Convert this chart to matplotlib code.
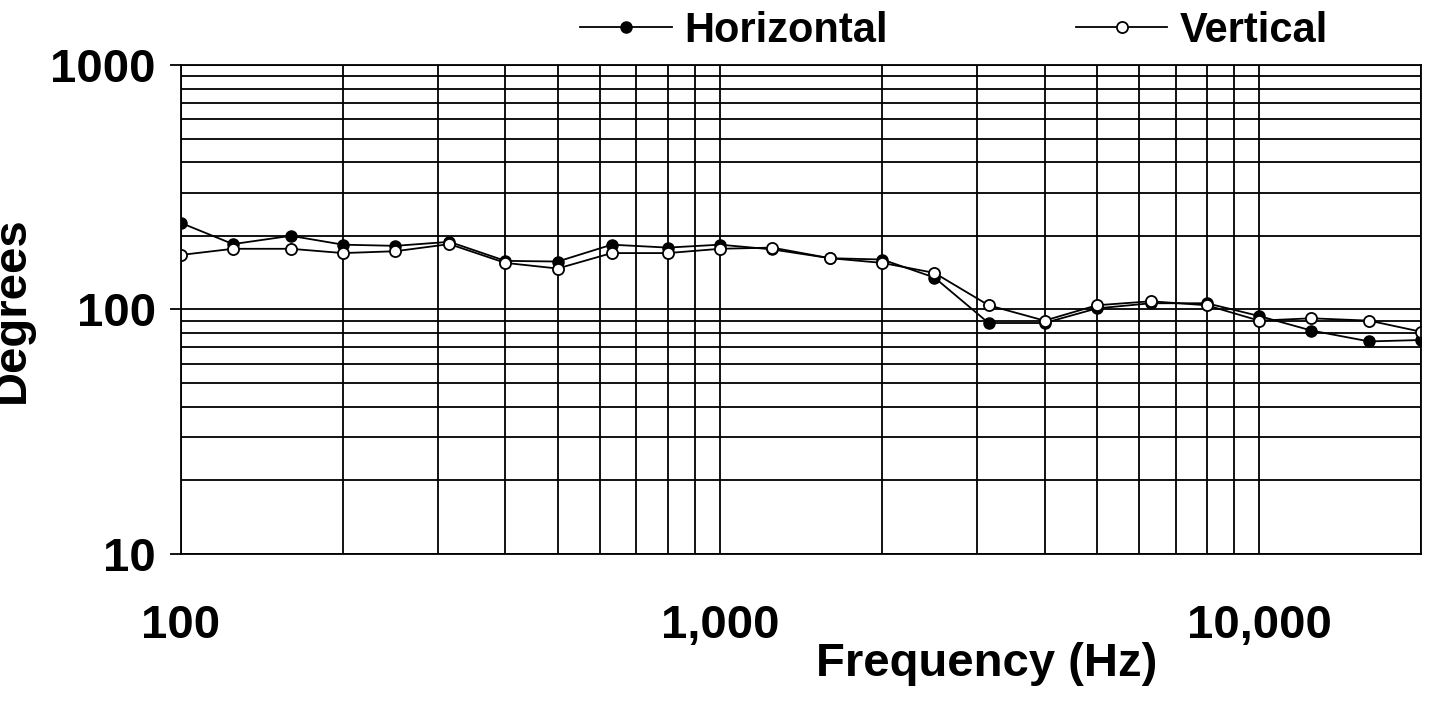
"""Degrees vs frequency, horizontal and vertical, log-log."""

import matplotlib.pyplot as plt
from matplotlib.ticker import FixedLocator, FuncFormatter, NullFormatter

plt.rcParams['font.family'] = ['Liberation Sans', 'DejaVu Sans']
plt.rcParams['font.weight'] = 'bold'

freqs = [100, 125, 160, 200, 250, 315, 400, 500, 630, 800, 1000, 1250,
         1600, 2000, 2500, 3150, 4000, 5000, 6300, 8000, 10000, 12500,
         16000, 20000]
horizontal = [226, 185, 200, 184, 182, 189, 158, 157, 184, 179, 184, 176,
              162, 160, 135, 88, 88, 101, 106, 106, 94, 82, 74, 75]
vertical = [167, 177, 177, 170, 173, 185, 155, 147, 170, 170, 177, 179,
            162, 155, 141, 104, 90, 104, 108, 104, 90, 92, 90, 81]

fig = plt.figure(figsize=(14.46, 7.13), dpi=100)
ax = fig.add_axes([0.125, 0.223, 0.858, 0.686])

ax.plot(freqs, horizontal, color='black', lw=1.3, marker='o', ms=8,
        mfc='black', mec='black', label='Horizontal')
ax.plot(freqs, vertical, color='black', lw=1.3, marker='o', ms=8,
        mfc='white', mec='black', mew=1.3, label='Vertical')

ax.set_xscale('log')
ax.set_yscale('log')
ax.set_xlim(100, 20000)
ax.set_ylim(10, 1000)

ax.xaxis.set_major_locator(FixedLocator([100, 1000, 10000]))
ax.xaxis.set_major_formatter(FuncFormatter(lambda v, p: '{:,.0f}'.format(v)))
ax.xaxis.set_minor_formatter(NullFormatter())
ax.yaxis.set_major_locator(FixedLocator([10, 100, 1000]))
ax.yaxis.set_major_formatter(FuncFormatter(lambda v, p: '{:.0f}'.format(v)))
ax.yaxis.set_minor_formatter(NullFormatter())

# Grid on every decade step
ax.grid(which='both', color='black', lw=1.3)
ax.tick_params(axis='x', which='both', length=0, labelsize=34, pad=36)
ax.tick_params(axis='y', which='major', length=8, width=1.3, labelsize=34,
               pad=10)
ax.tick_params(axis='y', which='minor', length=0)
for s in ax.spines.values():
    s.set_linewidth(1.3)

ax.set_xlabel('Frequency (Hz)', fontsize=34, fontweight='bold', labelpad=8)
ax.xaxis.set_label_coords(0.65, -0.18)
ax.set_ylabel('Degrees', fontsize=34, fontweight='bold', labelpad=12)

ax.legend(loc='center', bbox_to_anchor=(0.66, 0.957),
          bbox_transform=fig.transFigure, ncol=2, frameon=False,
          fontsize=30, handlelength=2.2, columnspacing=4.5,
          handletextpad=0.3)

fig.savefig('out.png', dpi=100)
